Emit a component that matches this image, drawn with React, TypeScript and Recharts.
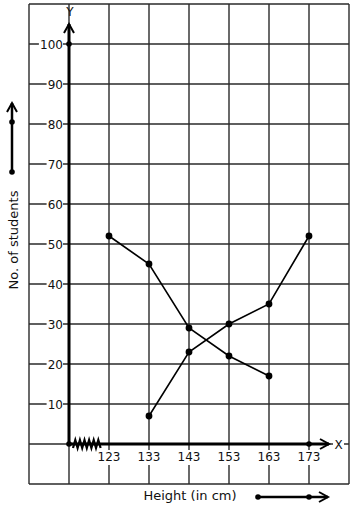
import React from "react";
import {
  LineChart,
  Line,
  XAxis,
  YAxis,
  CartesianGrid,
  ReferenceLine,
  ReferenceDot,
} from "recharts";

const heights = [123, 133, 143, 153, 163, 173];
const moreThan = [52, 45, 29, 22, 17, null];
const lessThan = [null, 7, 23, 30, 35, 52];

const gridX = [103, 113, 123, 133, 143, 153, 163, 173, 183];
const gridY = [-10, 0, 10, 20, 30, 40, 50, 60, 70, 80, 90, 100, 110];
const xLabels = [123, 133, 143, 153, 163, 173];
const yLabels = [10, 20, 30, 40, 50, 60, 70, 80, 90, 100];

const ORIGIN_X = 113;
const Y_ARROW_TIP = 105;
const X_ARROW_TIP = 178;

const FONT = "DejaVu Sans, sans-serif";

const chartData = heights.map((h, i) => ({
  height: h,
  moreThan: moreThan[i],
  lessThan: lessThan[i],
}));

const EmptyTick = () => <g />;

const XTickLabel = ({ cx, cy, value }: any) => {
  const text = String(value);
  const w = text.length * 7.7 + 2;
  return (
    <g>
      <rect x={cx - w / 2} y={cy + 6} width={w} height={15} fill="#fff" />
      <text x={cx} y={cy + 17} textAnchor="middle" fontSize={12} fontFamily={FONT} fill="#111">
        {text}
      </text>
    </g>
  );
};

const YTickLabel = ({ cx, cy, value }: any) => {
  const text = String(value);
  const w = text.length * 7.7 + 1;
  return (
    <g>
      <rect x={cx - 6 - w} y={cy - 7} width={w} height={14} fill="#fff" />
      <text x={cx - 6} y={cy + 4.5} textAnchor="end" fontSize={12} fontFamily={FONT} fill="#111">
        {text}
      </text>
    </g>
  );
};

const YArrow = ({ cx, cy }: any) => (
  <g>
    <path d={`M${cx - 5},${cy + 9} L${cx},${cy} L${cx + 5},${cy + 9}`} fill="none" stroke="#000" strokeWidth={2} />
    <text x={cx + 1} y={cy - 8} textAnchor="middle" fontSize={12} fontFamily={FONT} fill="#111">
      Y
    </text>
  </g>
);

const XArrow = ({ cx, cy }: any) => (
  <g>
    <path d={`M${cx - 9},${cy - 5} L${cx},${cy} L${cx - 9},${cy + 5}`} fill="none" stroke="#000" strokeWidth={2} />
    <rect x={cx + 4} y={cy - 7} width={11} height={14} fill="#fff" />
    <text x={cx + 9.5} y={cy + 4.5} textAnchor="middle" fontSize={12} fontFamily={FONT} fill="#111">
      X
    </text>
  </g>
);

const Zigzag = ({ cx, cy }: any) => {
  const pts: string[] = [];
  for (let i = 0; i <= 12; i++) {
    pts.push(`${cx + 4 + i * 2.3},${cy + (i % 2 === 0 ? 4 : -4)}`);
  }
  return <polyline points={pts.join(" ")} fill="none" stroke="#000" strokeWidth={2.2} />;
};

const Dot = ({ cx, cy }: any) => <circle cx={cx} cy={cy} r={2.8} fill="#000" />;

const YTitle = ({ viewBox }: any) => {
  const x = viewBox.x + 13;
  const mid = viewBox.y + viewBox.height / 2 - 4;
  return (
    <g>
      <text
        x={x}
        y={mid}
        transform={`rotate(-90, ${x}, ${mid})`}
        textAnchor="middle"
        dominantBaseline="central"
        fontSize={13}
        fontFamily={FONT}
        fill="#111"
      >
        No. of students
      </text>
      <line x1={x - 1} y1={mid - 68} x2={x - 1} y2={mid - 137} stroke="#000" strokeWidth={2.5} />
      <path d={`M${x - 6},${mid - 128} L${x - 1},${mid - 137} L${x + 4},${mid - 128}`} fill="none" stroke="#000" strokeWidth={2} />
      <circle cx={x - 1} cy={mid - 68} r={2.8} fill="#000" />
      <circle cx={x - 1} cy={mid - 118} r={2.8} fill="#000" />
    </g>
  );
};

const XTitle = ({ viewBox }: any) => {
  const cx = viewBox.x + viewBox.width / 2 + 1;
  const y = viewBox.y + 16;
  return (
    <g>
      <text x={cx} y={y} textAnchor="middle" fontSize={13} fontFamily={FONT} fill="#111">
        Height (in cm)
      </text>
      <line x1={cx + 68} y1={y - 3} x2={cx + 138} y2={y - 3} stroke="#000" strokeWidth={2.5} />
      <path d={`M${cx + 129},${y - 8} L${cx + 138},${y - 3} L${cx + 129},${y + 2}`} fill="none" stroke="#000" strokeWidth={2} />
      <circle cx={cx + 68} cy={y - 3} r={2.8} fill="#000" />
      <circle cx={cx + 119} cy={y - 3} r={2.8} fill="#000" />
    </g>
  );
};

export default function App() {
  return (
    <div style={{ position: "absolute", left: 0, top: 0, width: 354, height: 510, background: "#fff" }}>
      <LineChart width={354} height={510} data={chartData} margin={{ top: 4, right: 5, bottom: 0, left: 0 }}>
        <CartesianGrid stroke="#2a2a2a" strokeWidth={1.4} />
        <XAxis
          dataKey="height"
          type="number"
          domain={[103, 183]}
          ticks={gridX}
          interval={0}
          height={26}
          axisLine={false}
          tickLine={false}
          tick={<EmptyTick />}
          label={<XTitle />}
        />
        <YAxis
          type="number"
          domain={[-10, 110]}
          ticks={gridY}
          interval={0}
          width={29}
          axisLine={false}
          tickLine={false}
          tick={<EmptyTick />}
          label={<YTitle />}
        />
        <ReferenceLine
          segment={[{ x: ORIGIN_X, y: 0 }, { x: ORIGIN_X, y: Y_ARROW_TIP }]}
          stroke="#000"
          strokeWidth={3}
        />
        <ReferenceLine
          segment={[{ x: ORIGIN_X, y: 0 }, { x: X_ARROW_TIP, y: 0 }]}
          stroke="#000"
          strokeWidth={3}
        />
        {xLabels.map((v) => (
          <ReferenceDot key={`x${v}`} x={v} y={0} shape={(p: any) => <XTickLabel {...p} value={v} />} />
        ))}
        {yLabels.map((v) => (
          <ReferenceDot key={`y${v}`} x={ORIGIN_X} y={v} shape={(p: any) => <YTickLabel {...p} value={v} />} />
        ))}
        <ReferenceDot x={ORIGIN_X} y={Y_ARROW_TIP} shape={YArrow} />
        <ReferenceDot x={X_ARROW_TIP} y={0} shape={XArrow} />
        <ReferenceDot x={ORIGIN_X} y={0} shape={Zigzag} />
        <ReferenceDot x={ORIGIN_X} y={0} shape={Dot} />
        <ReferenceDot x={ORIGIN_X} y={100} shape={Dot} />
        <ReferenceDot x={173} y={0} shape={Dot} />
        <Line
          type="linear"
          dataKey="moreThan"
          stroke="#000"
          strokeWidth={1.6}
          dot={{ r: 2.6, fill: "#000", stroke: "#000" }}
          isAnimationActive={false}
        />
        <Line
          type="linear"
          dataKey="lessThan"
          stroke="#000"
          strokeWidth={1.6}
          dot={{ r: 2.6, fill: "#000", stroke: "#000" }}
          isAnimationActive={false}
        />
      </LineChart>
    </div>
  );
}
